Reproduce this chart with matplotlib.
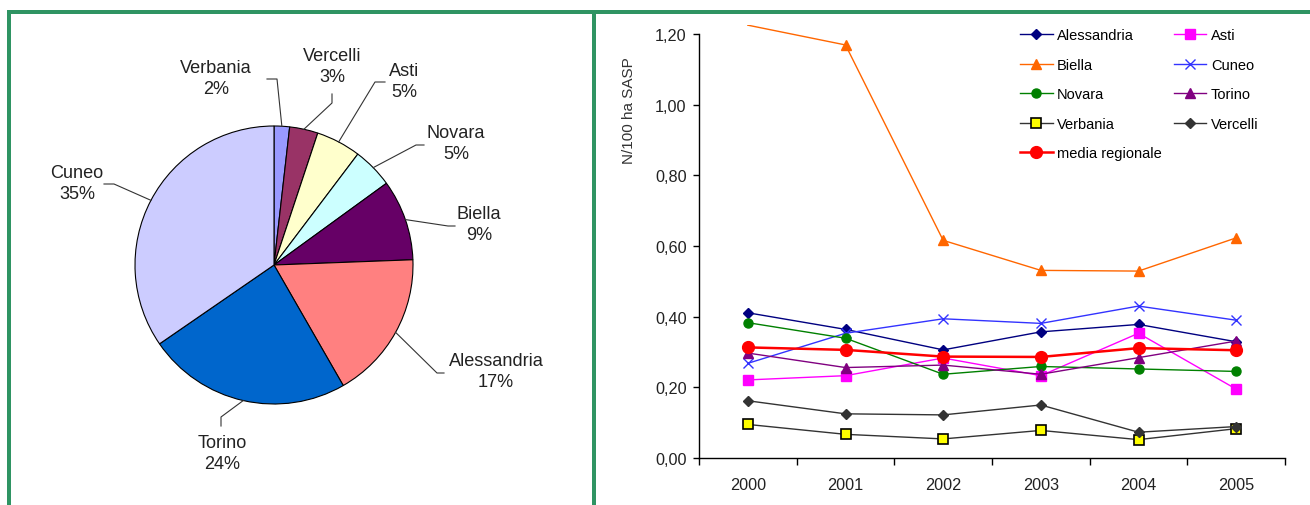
import matplotlib
matplotlib.use("Agg")
import matplotlib.pyplot as plt
from matplotlib.lines import Line2D
import numpy as np

plt.rcParams['font.family'] = ['Liberation Sans', 'DejaVu Sans']

# ---------------- data ----------------
pie_labels = ["Verbania", "Vercelli", "Asti", "Novara", "Biella", "Alessandria", "Torino", "Cuneo"]
pie_values = [1.8, 3.3, 5.2, 4.7, 9.4, 17.3, 23.7, 34.6]
pie_colors = ["#9999FF", "#993366", "#FFFFCC", "#CCFFFF", "#660066", "#FF8080", "#0066CC", "#CCCCFF"]

years = ["2000", "2001", "2002", "2003", "2004", "2005"]
alessandria = [0.411, 0.364, 0.306, 0.357, 0.378, 0.329]
asti        = [0.221, 0.233, 0.283, 0.233, 0.353, 0.195]
biella      = [1.225, 1.169, 0.616, 0.531, 0.529, 0.623]
cuneo       = [0.268, 0.353, 0.394, 0.381, 0.430, 0.390]
novara      = [0.383, 0.339, 0.237, 0.259, 0.252, 0.245]
torino      = [0.297, 0.256, 0.263, 0.237, 0.284, 0.331]
verbania    = [0.095, 0.067, 0.054, 0.078, 0.052, 0.083]
vercelli    = [0.162, 0.125, 0.122, 0.150, 0.073, 0.089]
media       = [0.313, 0.306, 0.287, 0.286, 0.311, 0.305]

yticks = [0.0, 0.2, 0.4, 0.6, 0.8, 1.0, 1.2]
ytick_labels = ["0,00", "0,20", "0,40", "0,60", "0,80", "1,00", "1,20"]
ylabel = "N/100 ha SASP"

W, H = 1310, 506
fig = plt.figure(figsize=(W / 100, H / 100), dpi=100)

# ---------------- pie ----------------
R = 139.0
cx, cy = 274, 266
half = 200
axp = fig.add_axes([(cx - half) / W, (H - cy - half) / H, 2 * half / W, 2 * half / H])
wedges, _ = axp.pie(pie_values, colors=pie_colors, startangle=90, counterclock=False,
                    wedgeprops=dict(edgecolor="black", linewidth=0.8))
lim = half / R
axp.set_xlim(-lim, lim)
axp.set_ylim(-lim, lim)
axp.set_aspect('equal', adjustable='box')
axp.axis('off')

def px(x, y):
    return ((x - cx) / R, (cy - y) / R)

# label centre, elbow point, end point (pixels of the reference)
label_layout = {
    "Verbania":    ((216, 79), (277, 80), (267, 80)),
    "Vercelli":    ((332, 67), (332, 104), (332, 95)),
    "Asti":        ((404, 82), (375, 83), (385, 83)),
    "Novara":      ((456, 144), (416, 146), (424, 146)),
    "Biella":      ((479, 225), (448, 227), (455, 227)),
    "Alessandria": ((496, 372), (437, 374), (444, 374)),
    "Torino":      ((222, 454), (221, 418), (221, 427)),
    "Cuneo":       ((77, 184), (114, 185), (104, 185)),
}
total = sum(pie_values)
for w, lab, val in zip(wedges, pie_labels, pie_values):
    ang = np.deg2rad((w.theta1 + w.theta2) / 2)
    ex, ey = np.cos(ang), np.sin(ang)
    (tx, ty), (e1x, e1y), (e2x, e2y) = label_layout[lab]
    p1 = px(e1x, e1y)
    p2 = px(e2x, e2y)
    axp.plot([ex, p1[0], p2[0]], [ey, p1[1], p2[1]], color="#333333", lw=0.8, clip_on=False)
    t = px(tx, ty)
    axp.text(t[0], t[1], f"{lab}\n{round(val / total * 100):d}%", ha="center", va="center",
             fontsize=13.1, color="#222222", linespacing=1.25)

# ---------------- line chart ----------------
ymax = 1.225
bottom_px = 459
unit_px = 424 / 1.2
ax = fig.add_axes([699 / W, (H - bottom_px) / H, 586 / W, ymax * unit_px / H])
x = np.arange(len(years))

series = [
    ("Alessandria", alessandria, dict(color="#000080", marker="D", ms=5, mfc="#000080", mec="#000080")),
    ("Asti", asti, dict(color="#FF00FF", marker="s", ms=6.5, mfc="#FF00FF", mec="#FF00FF")),
    ("Biella", biella, dict(color="#FF6600", marker="^", ms=7, mfc="#FF6600", mec="#FF6600", markevery=[1, 2, 3, 4, 5])),
    ("Cuneo", cuneo, dict(color="#3333FF", marker="x", ms=7, mew=1.0)),
    ("Novara", novara, dict(color="#008000", marker="o", ms=6.5, mfc="#008000", mec="#008000")),
    ("Torino", torino, dict(color="#800080", marker="^", ms=7, mfc="#800080", mec="#800080")),
    ("Verbania", verbania, dict(color="#333333", marker="s", ms=6.5, mfc="#FFFF00", mec="black", mew=1.2)),
    ("Vercelli", vercelli, dict(color="#333333", marker="D", ms=5.5, mfc="#333333", mec="#333333")),
    ("media regionale", media, dict(color="#FF0000", marker="o", ms=8.5, mfc="#FF0000", mec="#FF0000", lw=1.8)),
]
handles = {}
for name, vals, st in series:
    st = dict(st)
    lw = st.pop("lw", 1.0)
    h, = ax.plot(x, vals, lw=lw, label=name, **st)
    handles[name] = h

ax.set_xlim(-0.5, len(years) - 0.5)
ax.set_ylim(0, ymax)
ax.set_yticks(yticks)
ax.set_yticklabels(ytick_labels)
ax.set_xticks(x)
ax.set_xticklabels(years)
ax.set_xticks(np.arange(len(years) + 1) - 0.5, minor=True)
ax.tick_params(axis='x', which='major', length=0, pad=14, labelsize=11.7, colors="#222222")
ax.tick_params(axis='x', which='minor', length=5, width=1, direction='out', color='black')
ax.tick_params(axis='y', which='major', length=4, width=1, direction='out', pad=5,
               labelsize=11.7, labelcolor="#222222")
for s in ("top", "right"):
    ax.spines[s].set_visible(False)
ax.spines['left'].set_bounds(0, 1.2)
ax.spines['left'].set_linewidth(1)
ax.spines['bottom'].set_linewidth(1)
ax.set_ylabel(ylabel, fontsize=11, color="#333333")
ax.yaxis.set_label_coords(-0.108, 0.804)

order = ["Alessandria", "Biella", "Novara", "Verbania", "media regionale",
         "Asti", "Cuneo", "Torino", "Vercelli"]
leg = fig.legend([handles[n] for n in order], order, ncol=2, frameon=False,
                 loc="upper left", bbox_to_anchor=(1020 / W, 1 - 29 / H),
                 fontsize=10.5, handlelength=2.25, handletextpad=0.3,
                 columnspacing=0.8, labelspacing=1.07, borderaxespad=0, borderpad=0)

# ---------------- green frame ----------------
green = "#2F9463"
lwp = 4 * 72 / 100
fig.add_artist(Line2D([7 / W, 1.0], [1 - 13 / H, 1 - 13 / H], color=green, lw=lwp, solid_capstyle='butt'))
fig.add_artist(Line2D([9 / W, 9 / W], [0, 1 - 11 / H], color=green, lw=lwp, solid_capstyle='butt'))
fig.add_artist(Line2D([594 / W, 594 / W], [0, 1 - 11 / H], color=green, lw=lwp, solid_capstyle='butt'))

fig.savefig("out.png", dpi=100)
